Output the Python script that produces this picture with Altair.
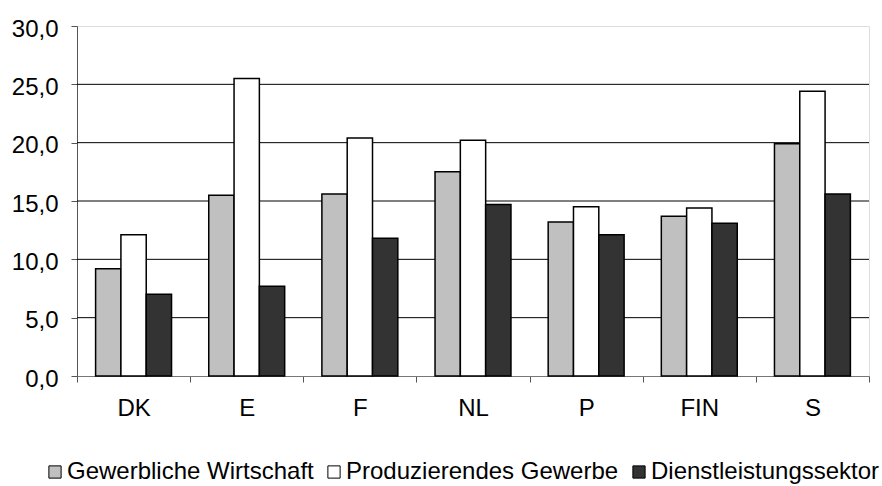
import altair as alt
import pandas as pd

countries = ["DK", "E", "F", "NL", "P", "FIN", "S"]
series = ["Gewerbliche Wirtschaft", "Produzierendes Gewerbe", "Dienstleistungssektor"]
gewerbliche = [9.2, 15.5, 15.6, 17.5, 13.2, 13.7, 19.9]
produzierend = [12.1, 25.5, 20.4, 20.2, 14.5, 14.4, 24.4]
dienst = [7.0, 7.7, 11.8, 14.7, 12.1, 13.1, 15.6]
colors = ["#C0C0C0", "#FFFFFF", "#333333"]
grid_values = [5, 10, 15, 20, 25]
y_ticks = [0, 5, 10, 15, 20, 25, 30]

rows = []
for s, vals in zip(series, [gewerbliche, produzierend, dienst]):
    for c, v in zip(countries, vals):
        rows.append({"Land": c, "Sektor": s, "Wert": v})
df = pd.DataFrame(rows)

FONT = "Liberation Sans"
yscale = alt.Scale(domain=[0, 30], nice=False, zero=True)
yaxis = alt.Axis(
    title=None,
    values=y_ticks,
    format=".1f",
    labelExpr="replace(datum.label, '.', ',')",
    grid=False,
    tickSize=6,
    tickColor="#555555",
    domainColor="#555555",
    labelPadding=13,
    labelOffset=3,
    labelFontSize=24,
    labelFont=FONT,
    labelColor="black",
)

grid = alt.Chart(pd.DataFrame({"g": grid_values})).mark_rule(
    color="#000000", strokeWidth=1
).encode(y=alt.Y("g:Q", scale=yscale, axis=yaxis, title=None))

bars = alt.Chart(df).mark_bar(stroke="black", strokeWidth=1.5).encode(
    x=alt.X(
        "Land:N",
        sort=countries,
        scale=alt.Scale(paddingInner=0, paddingOuter=0),
        axis=alt.Axis(
            title=None,
            labelAngle=0,
            tickBand="extent",
            tickSize=6,
            tickColor="#555555",
            domainColor="#777777",
            labelPadding=14,
            labelFontSize=24,
            labelFont=FONT,
            labelColor="black",
        ),
    ),
    xOffset=alt.XOffset("Sektor:N", sort=series,
                        scale=alt.Scale(paddingInner=0, paddingOuter=0.735)),
    y=alt.Y("Wert:Q", scale=yscale, axis=yaxis, title=None),
    color=alt.Color(
        "Sektor:N",
        sort=series,
        scale=alt.Scale(domain=series, range=colors),
        legend=alt.Legend(
            title=None,
            orient="none",
            direction="horizontal",
            legendX=-34,
            legendY=434,
            symbolType="square",
            symbolSize=150,
            symbolStrokeColor="black",
            symbolStrokeWidth=1,
            labelFontSize=24,
            labelFont=FONT,
            labelColor="black",
            labelOffset=0,
            labelLimit=0,
            columnPadding=8,
        ),
    ),
)

chart = (
    alt.layer(grid, bars)
    .properties(
        width=792,
        height=350,
        autosize=alt.AutoSizeParams(type="none"),
        padding={"left": 77, "top": 26, "right": 13, "bottom": 110},
    )
    .configure_view(stroke=None)
    .configure(background="white")
)

chart.save("out.html", embed_options={"renderer": "svg", "actions": False})
